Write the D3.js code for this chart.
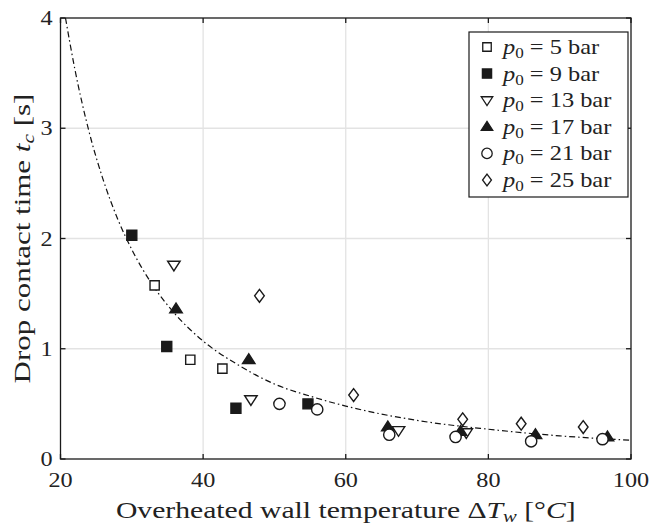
<!DOCTYPE html>
<html>
<head>
<meta charset="utf-8">
<script src="https://cdn.jsdelivr.net/npm/d3@7"></script>
<style>
  body { margin: 0; background: #fff; }
  svg { font-family: "Liberation Serif", "DejaVu Serif", serif; }
</style>
</head>
<body>
<svg id="chart" width="649" height="526"></svg>
<script>
// values
var xTicks = [20, 40, 60, 80, 100];
var yTicks = [0, 1, 2, 3, 4];

var pressures = ["5", "9", "13", "17", "21", "25"];

var dT5 = [33.2, 38.2, 42.7];
var tc5 = [1.575, 0.90, 0.82];
var dT9 = [30.0, 34.9, 44.6, 54.7];
var tc9 = [2.03, 1.02, 0.46, 0.50];
var dT13 = [35.9, 46.7, 67.4, 76.9];
var tc13 = [1.76, 0.54, 0.26, 0.24];
var dT17 = [36.2, 46.4, 65.9, 76.1, 86.6, 96.7];
var tc17 = [1.36, 0.90, 0.29, 0.25, 0.22, 0.20];
var dT21 = [50.7, 56.0, 66.1, 75.4, 86.0, 96.0];
var tc21 = [0.50, 0.45, 0.22, 0.20, 0.16, 0.18];
var dT25 = [47.9, 61.1, 76.4, 84.6, 93.3];
var tc25 = [1.48, 0.58, 0.36, 0.32, 0.29];

// dash-dot fit curve
var fitX = [20.7, 22, 24, 26, 28, 30, 33, 36, 40, 45, 50, 55, 60, 70, 80, 90, 100];
var fitY = [4.0, 3.54, 2.97, 2.53, 2.18, 1.90, 1.57, 1.32, 1.07, 0.85, 0.68, 0.57, 0.48, 0.35, 0.27, 0.21, 0.17];

let chart = d3.select("#chart"),
    margin = { top: 18, right: 18, bottom: 67, left: 60.5 },
    width = +chart.attr("width") - margin.left - margin.right,
    height = +chart.attr("height") - margin.top - margin.bottom;

let x = d3.scaleLinear().domain([20, 100]).range([0, width]);
let y = d3.scaleLinear().domain([0, 4]).range([height, 0]);

let ink = "#1a1a1a";

let focus = chart.append("g")
    .attr("transform", "translate(" + margin.left + "," + margin.top + ")");

// squeeze/stretch a text horizontally so it spans the given width
function stretch(sel, target, pre) {
    let w = sel.node().getComputedTextLength();
    sel.attr("transform", pre + " scale(" + (target / w) + ",1)");
    return target / w;
}

// grid
focus.append("g").selectAll("line")
    .data(xTicks.slice(1, -1))
    .join("line")
    .attr("x1", d => x(d)).attr("x2", d => x(d))
    .attr("y1", 0).attr("y2", height)
    .style("stroke", "#e3e3e3").style("stroke-width", "1.3px");

focus.append("g").selectAll("line")
    .data(yTicks.slice(1, -1))
    .join("line")
    .attr("y1", d => y(d)).attr("y2", d => y(d))
    .attr("x1", 0).attr("x2", width)
    .style("stroke", "#e3e3e3").style("stroke-width", "1.3px");

// fit curve
let fitData = fitX.map((v, i) => ({ x: v, y: fitY[i] }));
let fitLine = d3.line()
    .x(d => x(d.x))
    .y(d => y(d.y))
    .curve(d3.curveMonotoneX);

focus.append("path")
    .datum(fitData)
    .attr("d", fitLine)
    .style("fill", "none")
    .style("stroke", "#111")
    .style("stroke-width", "1.2px")
    .style("stroke-dasharray", "6,3,1.5,3");

// markers
let diamond = {
    draw(context, size) {
        let h = Math.sqrt(size) * 0.72, w = h * 0.75;
        context.moveTo(0, -h);
        context.lineTo(w, 0);
        context.lineTo(0, h);
        context.lineTo(-w, 0);
        context.closePath();
    }
};
let triDown = {
    draw(context, size) {
        let s = Math.sqrt(size) * 0.78;
        context.moveTo(-s, -s * 0.6);
        context.lineTo(s, -s * 0.6);
        context.lineTo(0, s * 0.95);
        context.closePath();
    }
};
let triUp = {
    draw(context, size) {
        let s = Math.sqrt(size) * 0.78;
        context.moveTo(-s, s * 0.6);
        context.lineTo(s, s * 0.6);
        context.lineTo(0, -s * 0.95);
        context.closePath();
    }
};

let series = [
    { xs: dT5, ys: tc5, type: d3.symbolSquare, size: 85, fill: "#fff" },
    { xs: dT9, ys: tc9, type: d3.symbolSquare, size: 100, fill: ink },
    { xs: dT13, ys: tc13, type: triDown, size: 64, fill: "#fff" },
    { xs: dT17, ys: tc17, type: triUp, size: 64, fill: ink },
    { xs: dT21, ys: tc21, type: d3.symbolCircle, size: 100, fill: "#fff" },
    { xs: dT25, ys: tc25, type: diamond, size: 80, fill: "#fff" }
];

series.forEach(s => {
    let pts = s.xs.map((v, i) => ({ x: v, y: s.ys[i] }));
    focus.append("g").selectAll("path")
        .data(pts)
        .join("path")
        .attr("transform", d => "translate(" + x(d.x) + "," + y(d.y) + ")")
        .attr("d", d3.symbol().type(s.type).size(s.size))
        .style("fill", s.fill)
        .style("stroke", ink)
        .style("stroke-width", "1.4px");
});

// axes box with inward ticks
focus.append("rect")
    .attr("width", width).attr("height", height)
    .style("fill", "none").style("stroke", ink).style("stroke-width", "1.3px");

let tickLen = 5;
xTicks.forEach(t => {
    focus.append("line").attr("x1", x(t)).attr("x2", x(t)).attr("y1", height).attr("y2", height - tickLen)
        .style("stroke", ink).style("stroke-width", "1.3px");
    focus.append("line").attr("x1", x(t)).attr("x2", x(t)).attr("y1", 0).attr("y2", tickLen)
        .style("stroke", ink).style("stroke-width", "1.3px");
});
yTicks.forEach(t => {
    focus.append("line").attr("x1", 0).attr("x2", tickLen).attr("y1", y(t)).attr("y2", y(t))
        .style("stroke", ink).style("stroke-width", "1.3px");
    focus.append("line").attr("x1", width).attr("x2", width - tickLen).attr("y1", y(t)).attr("y2", y(t))
        .style("stroke", ink).style("stroke-width", "1.3px");
});

focus.append("g").selectAll("text")
    .data(xTicks)
    .join("text")
    .attr("transform", d => "translate(" + x(d) + "," + (height + 28) + ") scale(1.1,1)")
    .attr("text-anchor", "middle")
    .style("font-size", "22px")
    .style("fill", "#222")
    .text(d => d);

focus.append("g").selectAll("text")
    .data(yTicks)
    .join("text")
    .attr("transform", d => "translate(-8," + (y(d) + 7) + ") scale(1.1,1)")
    .attr("text-anchor", "end")
    .style("font-size", "22px")
    .style("fill", "#222")
    .text(d => d);

// axis titles
let xt = chart.append("text")
    .attr("text-anchor", "middle")
    .style("font-size", "23px")
    .style("fill", "#222");
xt.append("tspan").text("Overheated wall temperature \u0394");
xt.append("tspan").style("font-style", "italic").text("T");
xt.append("tspan").style("font-style", "italic").style("font-size", "16px").attr("dy", 4).text("w");
xt.append("tspan").attr("dy", -4).text(" [\u00b0");
xt.append("tspan").style("font-style", "italic").text("C");
xt.append("tspan").text("]");
stretch(xt, 460, "translate(" + (margin.left + width / 2) + ",518)");

let yt = chart.append("text")
    .attr("text-anchor", "middle")
    .style("font-size", "23px")
    .style("fill", "#222");
yt.append("tspan").text("Drop contact time ");
yt.append("tspan").style("font-style", "italic").text("t");
yt.append("tspan").style("font-style", "italic").style("font-size", "16px").attr("dy", 4).text("c");
yt.append("tspan").attr("dy", -4).text(" [s]");
stretch(yt, 290, "translate(30," + (margin.top + height / 2) + ") rotate(-90)");

// legend
let legend = chart.append("g").attr("transform", "translate(469,32)");
legend.append("rect")
    .attr("width", 159).attr("height", 165)
    .style("fill", "#fff").style("stroke", ink).style("stroke-width", "1.2px");

series.forEach((s, i) => {
    let row = legend.append("g").attr("transform", "translate(0," + (15 + i * 26.6) + ")");
    row.append("path")
        .attr("transform", "translate(18,0)")
        .attr("d", d3.symbol().type(s.type).size(s.size * 0.85))
        .style("fill", s.fill)
        .style("stroke", ink)
        .style("stroke-width", "1.3px");
    let t = row.append("text")
        .style("font-size", "20px")
        .style("fill", "#222");
    t.append("tspan").style("font-style", "italic").text("p");
    t.append("tspan").style("font-size", "14px").attr("dy", 4).text("0");
    t.append("tspan").attr("dy", -4).text(" = " + pressures[i] + " bar");
    t.attr("transform", "translate(34,7) scale(1.22,1)");
});
</script>
</body>
</html>
